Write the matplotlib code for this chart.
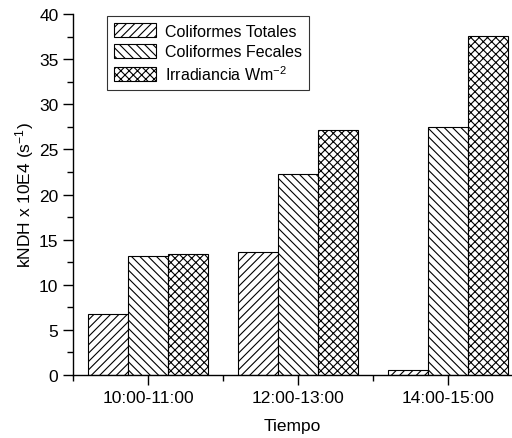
import numpy as np
import matplotlib.pyplot as plt
from matplotlib.ticker import MultipleLocator

plt.rcParams['font.family'] = ['Liberation Sans', 'DejaVu Sans']
plt.rcParams['mathtext.default'] = 'regular'
plt.rcParams['hatch.linewidth'] = 0.8

# kNDH values per time slot
tiempos = ["10:00-11:00", "12:00-13:00", "14:00-15:00"]
totales = [6.8, 13.6, 0.6]
fecales = [13.2, 22.3, 27.5]
irradiancia = [13.4, 27.2, 37.6]

series = [
    (totales, "Coliformes Totales", "////"),
    (fecales, "Coliformes Fecales", "\\\\\\\\"),
    (irradiancia, "Irradiancia Wm$^{-2}$", "xxxx"),
]

fig = plt.figure(figsize=(5.12, 4.39), dpi=100)
ax = fig.add_axes([0.1426, 0.1435, 0.8574, 0.822])

x = np.arange(len(tiempos))
w = 0.2667
for i, (vals, lab, hat) in enumerate(series):
    ax.bar(x + (i - 1) * w, vals, w, facecolor="white", edgecolor="black",
           linewidth=0.8, hatch=hat, label=lab)

ax.set_xlim(-0.5, 2.427)
ax.set_ylim(0, 40)
ax.set_xticks(x)
ax.set_xticklabels(tiempos)
ax.xaxis.set_minor_locator(MultipleLocator(0.5))
ax.yaxis.set_major_locator(MultipleLocator(5))
ax.yaxis.set_minor_locator(MultipleLocator(2.5))
ax.tick_params(axis="both", which="major", direction="out", length=7,
               width=1, labelsize=12.5)
ax.tick_params(axis="both", which="minor", direction="out", length=4, width=1)
ax.spines["top"].set_visible(False)
ax.spines["right"].set_visible(False)
ax.spines["left"].set_linewidth(1)
ax.spines["bottom"].set_linewidth(1)
ax.set_xlabel("Tiempo", fontsize=12.5, labelpad=10)
ax.set_ylabel("kNDH x 10E4 (s$^{-1}$)", fontsize=12.5, labelpad=2)

leg = ax.legend(loc="upper left", bbox_to_anchor=(0.077, 0.995), fontsize=11.5,
                frameon=True, fancybox=False, edgecolor="black",
                handlelength=2.6, handleheight=1.0, labelspacing=0.3,
                borderpad=0.45, handletextpad=0.6, borderaxespad=0)
leg.get_frame().set_linewidth(0.8)

fig.savefig("out.png", dpi=100)
